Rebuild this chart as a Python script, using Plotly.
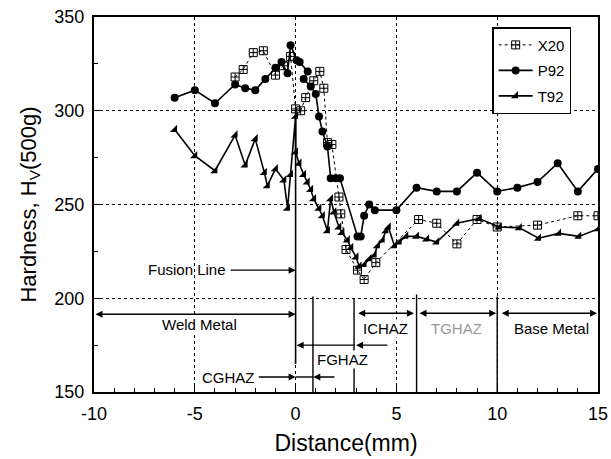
import plotly.graph_objects as go

# ---------------- data ----------------
x20_x = [-3.0, -2.6, -2.1, -1.6, -1.0, -0.6, -0.25, 0.0, 0.25, 0.5, 0.9, 1.2, 1.4, 1.58, 1.8,
         2.15, 2.24, 2.5, 3.07, 3.4, 3.98, 6.1, 7.0, 8.0, 9.0, 10.0, 12.0, 14.0, 15.0]
x20_y = [318, 322, 331, 332, 319, 324, 329, 301, 300, 307, 316, 321, 312, 283, 282,
         254, 245, 226, 215, 210, 219, 242, 240, 229, 242, 238, 239, 244, 244]

p92_x = [-6, -5, -4, -3, -2.5, -2, -1.5, -1, -0.7, -0.4, -0.25, 0.05, 0.2, 0.6, 0.4, 0.75,
         1.0, 1.16, 1.33, 1.58, 1.74, 1.99, 2.2, 3.07, 3.23, 3.4, 3.65, 3.93, 5, 6, 7, 8, 9,
         10, 11, 12, 13, 14, 15]
p92_y = [307, 311, 304, 314, 312, 311, 317, 323, 326, 320, 335, 327, 326, 321, 317, 313,
         309, 297, 289, 281, 264, 264, 264, 233, 233, 244, 250, 247, 247, 259, 257, 257, 267,
         257, 259, 262, 272, 257, 269]

t92_x = [-6, -5, -4, -3, -2.5, -2, -1.55, -1.4, -1.0, -0.58, -0.4, -0.25, 0.0, 0.0, 0.17,
         0.4, 0.58, 0.75, 0.9, 1.16, 1.33, 1.58, 1.74, 1.9, 2.15, 2.3, 2.57, 2.74, 3.0, 3.15,
         3.4, 3.65, 3.9, 4.06, 4.3, 4.48, 4.6, 4.9, 5.14, 5.47, 6.0, 6.5, 7.0, 8.0, 9.1,
         10.1, 11.1, 12.05, 13.05, 14.05, 15.0]
t92_y = [290, 276, 268, 287, 271, 285, 267, 260, 269, 263, 248, 266, 297, 278, 272,
         266, 262, 258, 253, 248, 244, 236, 253, 246, 238, 235, 231, 227, 222, 217,
         218, 221, 223, 228, 231, 236, 238, 228, 230, 233, 233, 231.5, 230, 240, 242.5,
         238, 237.6, 232, 234.6, 233, 237]

x_ticks = [-10, -5, 0, 5, 10, 15]
y_ticks = [150, 200, 250, 300, 350]

# zone labels: (text, x, y, colour)
zone_labels = [("Weld Metal", -4.75, 186, "black"),
               ("ICHAZ", 4.45, 184, "black"),
               ("TGHAZ", 8.0, 184, "#9a9a9a"),
               ("Base Metal", 12.7, 184, "black"),
               ("FGHAZ", 2.35, 167.5, "black")]

FONT = "Liberation Sans, Arial, sans-serif"

fig = go.Figure()
fig.add_trace(go.Scatter(x=x20_x, y=x20_y, name="X20", mode="lines+markers",
                         line=dict(color="black", width=1, dash="dot"),
                         marker=dict(symbol="square-cross-open", size=8, color="black",
                                     line=dict(width=1, color="black")),
                         legendgroup="a"))
fig.add_trace(go.Scatter(x=p92_x, y=p92_y, name="P92", mode="lines+markers",
                         line=dict(color="black", width=1.6),
                         marker=dict(symbol="circle", size=8, color="black"),
                         legendgroup="b"))
fig.add_trace(go.Scatter(x=t92_x, y=t92_y, name="T92", mode="lines+markers",
                         line=dict(color="black", width=1.6),
                         marker=dict(symbol="triangle-se", size=8, color="black"),
                         legendgroup="c"))

ann = []


def arrow(x0, y0, x1, y1, both=False):
    d = dict(x=x1, y=y1, ax=x0, ay=y0, xref="x", yref="y", axref="x", ayref="y",
             showarrow=True, text="", arrowhead=2, arrowsize=1, arrowwidth=1.4,
             arrowcolor="black", standoff=0, startstandoff=0)
    if both:
        d.update(arrowside="end+start", startarrowhead=2, startarrowsize=1)
    ann.append(d)


# double arrows for zones
arrow(-10, 191.5, 0, 191.5, both=True)
arrow(3.03, 192, 5.87, 192, both=True)
arrow(6.07, 192, 9.95, 192, both=True)
arrow(10.15, 192, 14.95, 192, both=True)
# FGHAZ arrow
arrow(4.63, 175, 3.0, 175)
arrow(3.0, 175, 0.05, 175)
# CGHAZ arrows
arrow(-1.9, 158, 0, 158)
arrow(2.0, 158, 0.88, 158)
# Fusion line arrow
arrow(-3.3, 215, 0, 215)

for txt, xx, yy, col in zone_labels:
    ann.append(dict(x=xx, y=yy, xref="x", yref="y", text=txt, showarrow=False,
                    font=dict(family=FONT, size=15, color=col), bgcolor="white",
                    borderpad=0))
ann.append(dict(x=-3.35, y=215.5, xref="x", yref="y", text="Fusion Line", showarrow=False,
                xanchor="right", font=dict(family=FONT, size=15, color="black")))
ann.append(dict(x=-1.95, y=158, xref="x", yref="y", text="CGHAZ", showarrow=False,
                xanchor="right", font=dict(family=FONT, size=15, color="black"),
                bgcolor="white", borderpad=0))

shapes = []
for xv, ytop in [(0.86, 201), (2.9, 200), (6.0, 202), (10.0, 201)]:
    shapes.append(dict(type="line", xref="x", yref="y", x0=xv, x1=xv, y0=150, y1=ytop,
                       line=dict(color="black", width=1.4), layer="above"))
shapes.append(dict(type="line", xref="x", yref="y", x0=0, x1=0, y0=165, y1=300,
                   line=dict(color="black", width=1.6), layer="above"))
shapes.append(dict(type="line", xref="x", yref="y", x0=0, x1=0.88, y0=158, y1=158,
                   line=dict(color="black", width=1.4), layer="above"))

axis_common = dict(showline=True, linecolor="black", linewidth=2, mirror=True,
                   showgrid=True, gridcolor="black", gridwidth=1.3, griddash="dot",
                   zeroline=False, ticks="inside", ticklen=6, tickwidth=1.2, tickcolor="black",
                   automargin=False, ticklabelstandoff=4,
                   tickfont=dict(family=FONT, size=18, color="black"))

fig.update_layout(
    width=611, height=459,
    margin=dict(l=94, r=13, t=17, b=67),
    paper_bgcolor="white", plot_bgcolor="white",
    xaxis=dict(range=[-10, 15], tickvals=x_ticks, ticktext=[str(v) for v in x_ticks],
               title=dict(text="Distance(mm)", font=dict(family=FONT, size=23, color="black"),
                          standoff=12),
               minor=dict(ticks="inside", dtick=1, ticklen=4, tickcolor="black", showgrid=False),
               **axis_common),
    yaxis=dict(range=[150, 350], tickvals=y_ticks, ticktext=[str(v) for v in y_ticks],
               title=dict(text="Hardness, H<sub>V</sub>(500g)",
                          font=dict(family=FONT, size=22, color="black"), standoff=12),
               minor=dict(ticks="inside", dtick=25, ticklen=4, tickcolor="black", showgrid=False),
               **axis_common),
    legend=dict(x=0.79, y=0.973, xanchor="left", yanchor="top",
                bgcolor="white", bordercolor="black", borderwidth=1.5,
                font=dict(family=FONT, size=15, color="black"),
                tracegroupgap=3, itemwidth=34),
    annotations=ann, shapes=shapes,
    font=dict(family=FONT, color="black"),
)

fig.write_html("out.html", config={"displayModeBar": False},
               post_script="document.body.style.margin='0';document.body.style.overflow='hidden';")
